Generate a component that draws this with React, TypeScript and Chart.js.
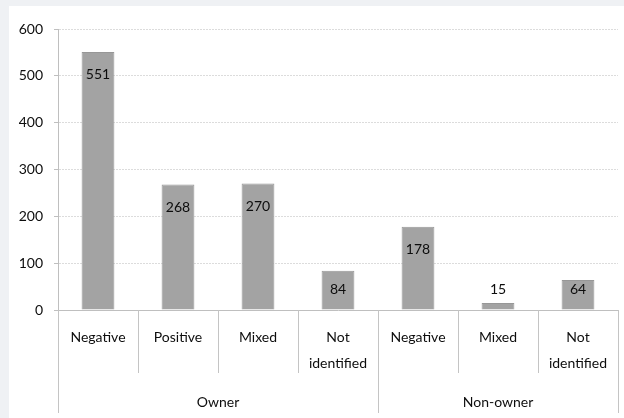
import React, { useEffect, useRef } from "react";
import { Chart, registerables } from "chart.js";

Chart.register(...registerables);

const categories: (string | string[])[] = [
  "Negative",
  "Positive",
  "Mixed",
  ["Not", "identified"],
  "Negative",
  "Mixed",
  ["Not", "identified"],
];
const values = [551, 268, 270, 84, 178, 15, 64];
const groups = ["Owner", "Non-owner"];
const groupSizes = [4, 3];
const yTicks = [0, 100, 200, 300, 400, 500, 600];

const FONT = "Lato, 'Open Sans', sans-serif";
const TEXT = "#0d0d0d";

const decorPlugin = {
  id: "decor",
  afterDraw(chart: any) {
    const ctx = chart.ctx;
    const x = chart.scales.x;
    const area = chart.chartArea;
    const step = x.getPixelForValue(1) - x.getPixelForValue(0);
    ctx.save();
    ctx.strokeStyle = "#c4c4c4";
    ctx.lineWidth = 1;
    let idx = 0;
    const groupBounds: number[] = [0];
    groupSizes.forEach((s) => {
      idx += s;
      groupBounds.push(idx);
    });
    for (let i = 0; i <= categories.length; i++) {
      const px = Math.round(x.getPixelForValue(i) - step / 2) + 0.5;
      const isGroup = groupBounds.includes(i);
      ctx.beginPath();
      ctx.moveTo(px, area.bottom);
      ctx.lineTo(px, area.bottom + (isGroup ? 103 : 63));
      ctx.stroke();
    }
    ctx.fillStyle = TEXT;
    ctx.font = "14px " + FONT;
    ctx.textAlign = "center";
    ctx.textBaseline = "middle";
    let start = 0;
    groups.forEach((g, gi) => {
      const end = start + groupSizes[gi] - 1;
      const cx = (x.getPixelForValue(start) + x.getPixelForValue(end)) / 2;
      ctx.fillText(g, cx, area.bottom + 92);
      start += groupSizes[gi];
    });
    const meta = chart.getDatasetMeta(0);
    meta.data.forEach((bar: any, i: number) => {
      const y = Math.min(bar.y + 23, bar.base - 20);
      ctx.fillText(String(values[i]), bar.x, y);
    });
    ctx.restore();
  },
};

export default function App() {
  const ref = useRef<HTMLCanvasElement>(null);
  useEffect(() => {
    if (!ref.current) return;
    const chart = new Chart(ref.current, {
      type: "bar",
      data: {
        labels: categories,
        datasets: [
          {
            data: values,
            backgroundColor: "#a3a3a3",
            borderColor: "#979797",
            borderWidth: 1,
            barPercentage: 0.41,
            categoryPercentage: 1,
          },
        ],
      },
      options: {
        animation: false,
        responsive: false,
        maintainAspectRatio: false,
        layout: { padding: { top: 23, right: 6, left: 0, bottom: 0 } },
        plugins: { legend: { display: false }, tooltip: { enabled: false } },
        scales: {
          x: {
            grid: { display: false, drawTicks: false },
            border: { display: true, color: "#bfbfbf", width: 1 },
            ticks: {
              color: TEXT,
              font: { family: FONT, size: 14, lineHeight: 1.86 },
              padding: 14,
              maxRotation: 0,
              autoSkip: false,
            },
            afterFit: (s: any) => {
              s.height = 108;
            },
          },
          y: {
            min: 0,
            max: 600,
            afterBuildTicks: (s: any) => {
              s.ticks = yTicks.map((v) => ({ value: v }));
            },
            grid: {
              color: (c: any) => (c.tick && c.tick.value === 0 ? "rgba(0,0,0,0)" : "#dcdcdc"),
              tickColor: "#bfbfbf",
              tickLength: 4,
              drawTicks: true,
            },
            border: { display: true, color: "#bfbfbf", width: 1, dash: [2, 1] },
            ticks: {
              color: TEXT,
              font: { family: FONT, size: 14 },
              padding: 11,
            },
            afterFit: (s: any) => {
              s.width = 49;
            },
          },
        },
      },
      plugins: [decorPlugin],
    });
    return () => chart.destroy();
  }, []);
  return (
    <div
      style={{
        position: "absolute",
        left: 0,
        top: 0,
        width: 624,
        height: 418,
        background: "#eff1f4",
      }}
    >
      <canvas
        ref={ref}
        width={615}
        height={412}
        style={{ position: "absolute", left: 9, top: 6, width: 615, height: 412, background: "#fff" }}
      />
    </div>
  );
}
